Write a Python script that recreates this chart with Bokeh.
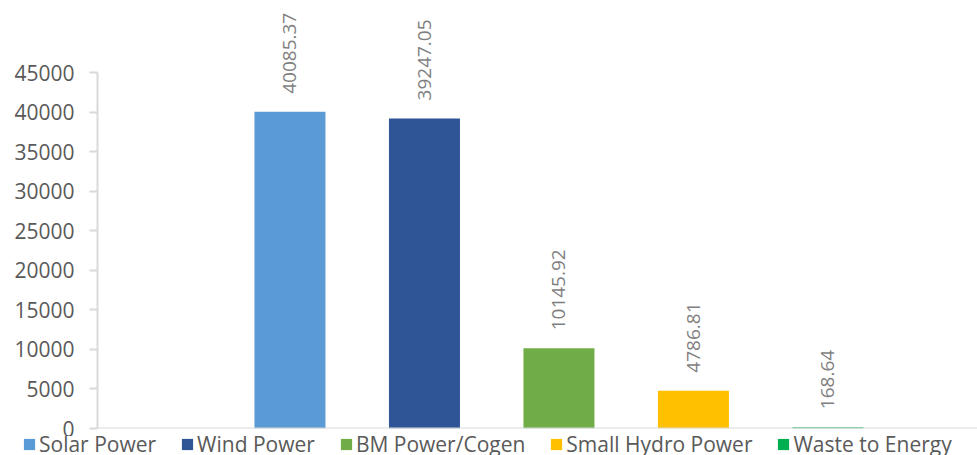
import math
from bokeh.plotting import figure
from bokeh.layouts import column, row
from bokeh.models import (ColumnDataSource, Legend, LegendItem, FixedTicker, Span,
                          NumeralTickFormatter)
from bokeh.core.properties import value
from bokeh.embed import file_html
from bokeh.resources import INLINE

# Installed renewable capacity by source
sources = ["Solar Power", "Wind Power", "BM Power/Cogen", "Small Hydro Power", "Waste to Energy"]
capacity = [40085.37, 39247.05, 10145.92, 4786.81, 168.64]
colors = ["#5B9BD5", "#2F5597", "#70AD47", "#FFC000", "#00B050"]
y_ticks = [0, 5000, 10000, 15000, 20000, 25000, 30000, 35000, 40000, 45000]

FONT = "Open Sans"
TEXT_GREY = "#595959"

src = ColumnDataSource(dict(
    x=list(range(len(sources))),
    y=capacity,
    name=sources,
    color=colors,
    label=[f"{v:.2f}" for v in capacity],
))

# ---- main bar chart ----
p = figure(width=977, height=436, output_backend="svg", toolbar_location=None,
           x_range=(-1.431, 5.112), y_range=(0, 54177),
           x_axis_location=None, min_border_left=97, min_border_right=0,
           min_border_top=0, min_border_bottom=8)
p.outline_line_color = None
p.xgrid.visible = False
p.ygrid.visible = False
p.background_fill_color = "white"
p.border_fill_color = "white"

bars = p.vbar(x="x", top="y", width=0.528, bottom=0, source=src,
              fill_color="color", line_color=None)

p.text(x="x", y="y", text="label", source=src, angle=math.pi / 2,
       text_align="left", text_baseline="middle", y_offset=-18,
       text_font=value(FONT), text_font_size="19px", text_color="#7f7f7f")

# baseline along the category axis
p.add_layout(Span(location=0, dimension="width", line_color="#d9d9d9", line_width=2))

yax = p.yaxis[0]
yax.ticker = FixedTicker(ticks=y_ticks)
yax.bounds = (0, 45000)
yax.formatter = NumeralTickFormatter(format="0")
yax.axis_line_color = "#d9d9d9"
yax.axis_line_width = 2
yax.major_tick_line_color = "#d9d9d9"
yax.major_tick_line_width = 2
yax.major_tick_in = 0
yax.major_tick_out = 8
yax.minor_tick_line_color = None
yax.major_label_standoff = 15
yax.major_label_text_font = FONT
yax.major_label_text_font_size = "21px"
yax.major_label_text_color = TEXT_GREY

# ---- legend strip under the chart ----
lg = figure(width=977, height=19, output_backend="svg", toolbar_location=None,
            x_range=(0, 1), y_range=(0, 1),
            x_axis_location=None, y_axis_location=None,
            min_border_left=0, min_border_right=0, min_border_top=0, min_border_bottom=0)
lg.outline_line_color = None
lg.xgrid.visible = False
lg.ygrid.visible = False
lg.border_fill_color = "white"
lg.background_fill_color = "white"

# zero-height keys: they only carry the colours into the legend
key_src = ColumnDataSource(dict(x=list(range(len(sources))), color=colors))
keys = lg.vbar(x="x", top=0, bottom=0, width=0.1, source=key_src,
               fill_color="color", line_color=None)

legend = Legend(
    items=[LegendItem(label=n, renderers=[keys], index=i) for i, n in enumerate(sources)],
    orientation="horizontal", location=(22, -3),
    padding=0, margin=0, spacing=24, label_standoff=3,
    glyph_width=14, glyph_height=14, label_height=20,
    label_text_font=FONT, label_text_font_size="21px", label_text_color=TEXT_GREY,
    border_line_alpha=0, background_fill_alpha=0,
)
lg.add_layout(legend)

layout = column(p, row(lg, spacing=0), spacing=0)
open("out.html", "w").write(file_html(layout, INLINE))
